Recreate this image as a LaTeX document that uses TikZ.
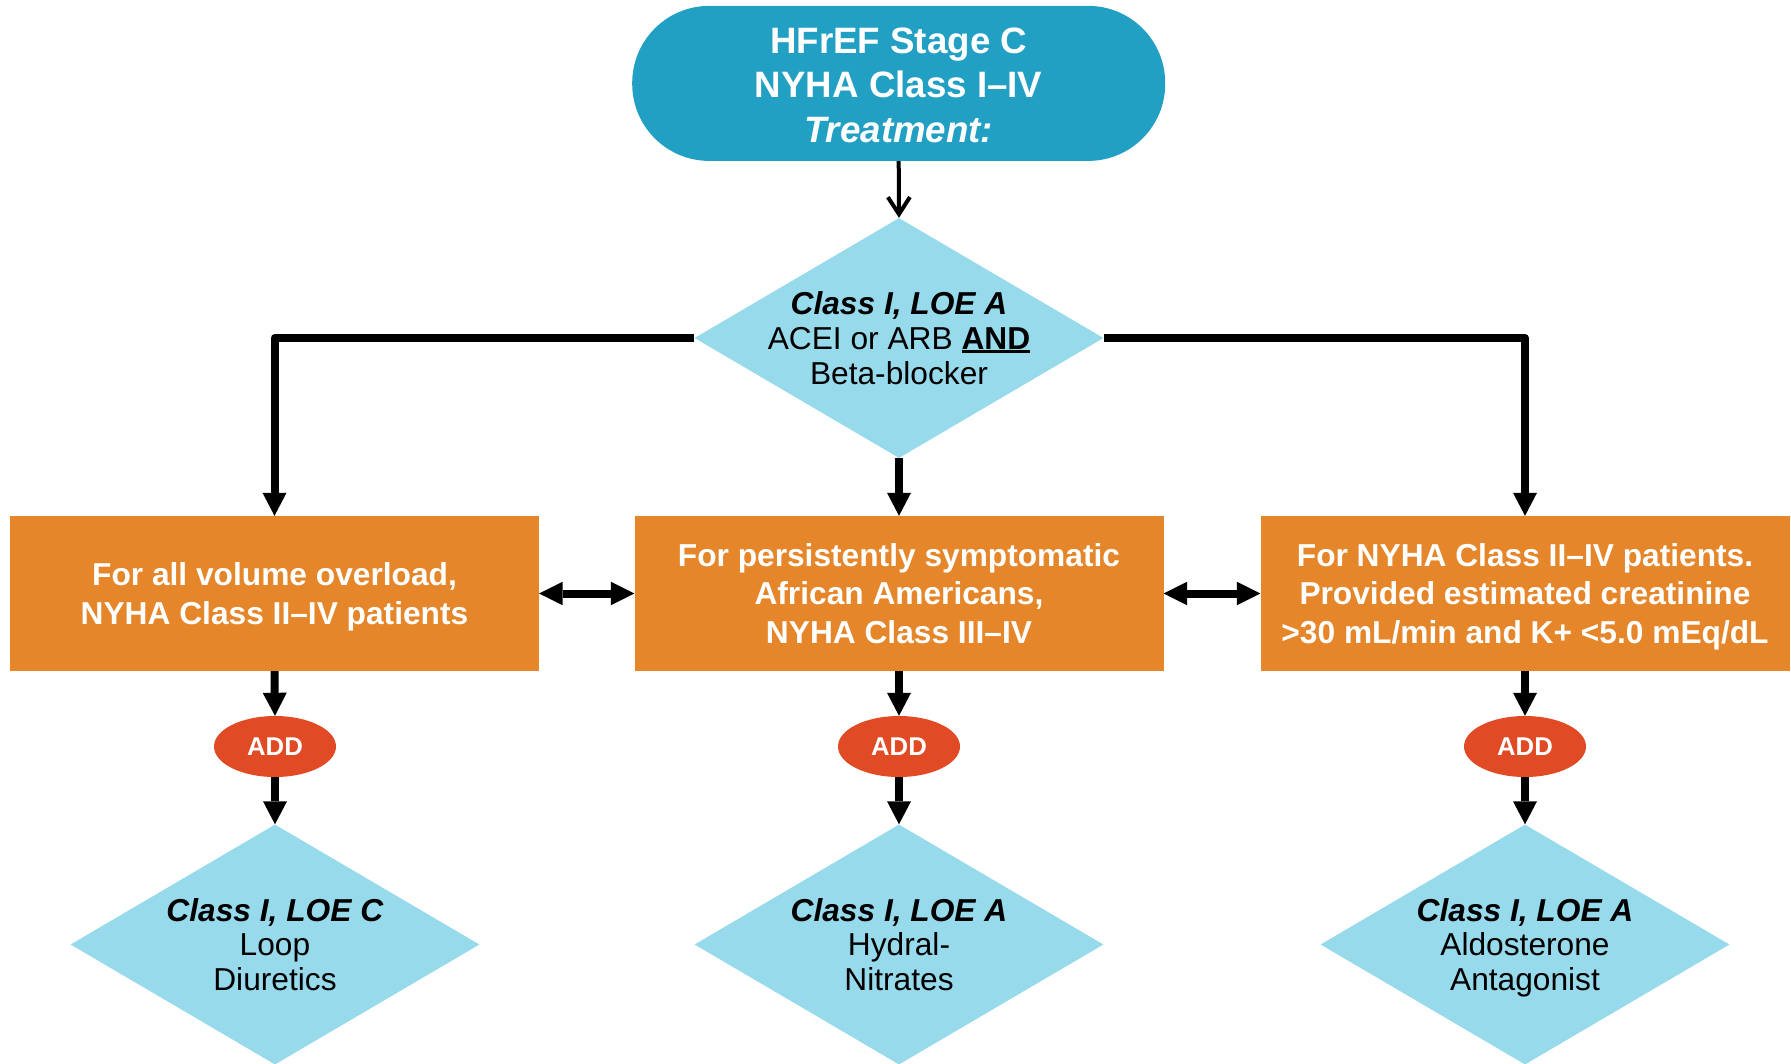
\documentclass[tikz,border=0pt]{standalone}
\usepackage{fontspec}
\setmainfont{Liberation Sans}
\usetikzlibrary{shapes.geometric,arrows.meta}
\definecolor{termblue}{HTML}{21A0C4}
\definecolor{lightblue}{HTML}{97DAEC}
\definecolor{boxorange}{HTML}{E6862A}
\definecolor{addred}{HTML}{E04A24}
\newcommand\myul[1]{\setbox0\hbox{#1}\rlap{\rule[-3.5pt]{\wd0}{2.6pt}}\box0}
\tikzset{
  term/.style={rectangle, rounded corners=77pt, fill=termblue, text=white,
    minimum width=533pt, minimum height=155pt, inner sep=0pt, align=center,
    text height=118pt, text depth=0pt,
    font={\fontsize{36.7}{44.5}\selectfont\bfseries}},
  dia/.style={diamond, fill=lightblue, minimum width=409pt, minimum height=240pt,
    inner sep=0pt, aspect=1.7},
  diatext/.style={align=center, text=black, inner sep=0pt, text depth=0pt,
    font={\fontsize{31.7}{34.8}\selectfont}},
  obox/.style={rectangle, fill=boxorange, text=white, minimum width=529pt,
    minimum height=155pt, inner sep=0pt, align=center, text depth=0pt,
    font={\fontsize{31.7}{38.3}\selectfont\bfseries}},
  addell/.style={ellipse, fill=addred, text=white, minimum width=122pt,
    minimum height=61pt, inner sep=0pt,
    font={\fontsize{25.7}{30}\selectfont\bfseries}},
  thick arrow/.style={line width=8pt, line join=round,
    -{Triangle[length=23pt,width=24pt,line width=0pt]}},
  both arrow/.style={line width=8pt,
    {Triangle[length=23.5pt,width=23.5pt,line width=0pt]}-{Triangle[length=23.5pt,width=23.5pt,line width=0pt]}},
  thin arrow/.style={line width=4pt, -{Straight Barb[length=17pt,width=22pt]}}
}
\begin{document}
\begin{tikzpicture}[x=1pt,y=-1pt]
\useasboundingbox (0,0) rectangle (1791,1063);
% top terminal
\node[term] (t) at (898.7,83.4) {HFrEF Stage C\\NYHA Class I–IV\\\textit{Treatment:}};
% first diamond
\node[dia] (d0) at (899,338) {};
\node[diatext] (d0t) at (899,338) {\textbf{\textit{Class I, LOE A}}\\ACEI or ARB \myul{\textbf{AND}}\\Beta-blocker};
% orange boxes
\node[obox] (b1) at (274.5,593.5) {For all volume overload,\\NYHA Class II–IV patients};
\node[obox] (b2) at (899,593.5) {For persistently symptomatic\\African Americans,\\NYHA Class III–IV};
\node[obox] (b3) at (1525,593.5) {For NYHA Class II–IV patients.\\Provided estimated creatinine\\>30 mL/min and K+ <5.0 mEq/dL};
% ADD ellipses
\node[addell] (a1) at (275,746.5) {ADD};
\node[addell] (a2) at (899,746.5) {ADD};
\node[addell] (a3) at (1525,746.5) {ADD};
% bottom diamonds
\node[dia] (d1) at (275,944.5) {};
\node[diatext] (d1t) at (275,944.5) {\textbf{\textit{Class I, LOE C}}\\Loop\\Diuretics};
\node[dia] (d2) at (899,944.5) {};
\node[diatext] (d2t) at (899,944.5) {\textbf{\textit{Class I, LOE A}}\\Hydral-\\Nitrates};
\node[dia] (d3) at (1525,944.5) {};
\node[diatext] (d3t) at (1525,944.5) {\textbf{\textit{Class I, LOE A}}\\Aldosterone\\Antagonist};
% connectors
\draw[thin arrow] (t.south) -- (d0.north);
\draw[thick arrow] (d0.west) -| (b1.north);
\draw[thick arrow] (d0.east) -| (b3.north);
\draw[thick arrow] (d0.south) -- (b2.north);
\draw[both arrow] (b1.east) -- (b2.west);
\draw[both arrow] (b2.east) -- (b3.west);
\draw[thick arrow] (b1.south) -- (a1.north);
\draw[thick arrow] (b2.south) -- (a2.north);
\draw[thick arrow] (b3.south) -- (a3.north);
\draw[thick arrow] (a1.south) -- (d1.north);
\draw[thick arrow] (a2.south) -- (d2.north);
\draw[thick arrow] (a3.south) -- (d3.north);
\end{tikzpicture}
\end{document}
